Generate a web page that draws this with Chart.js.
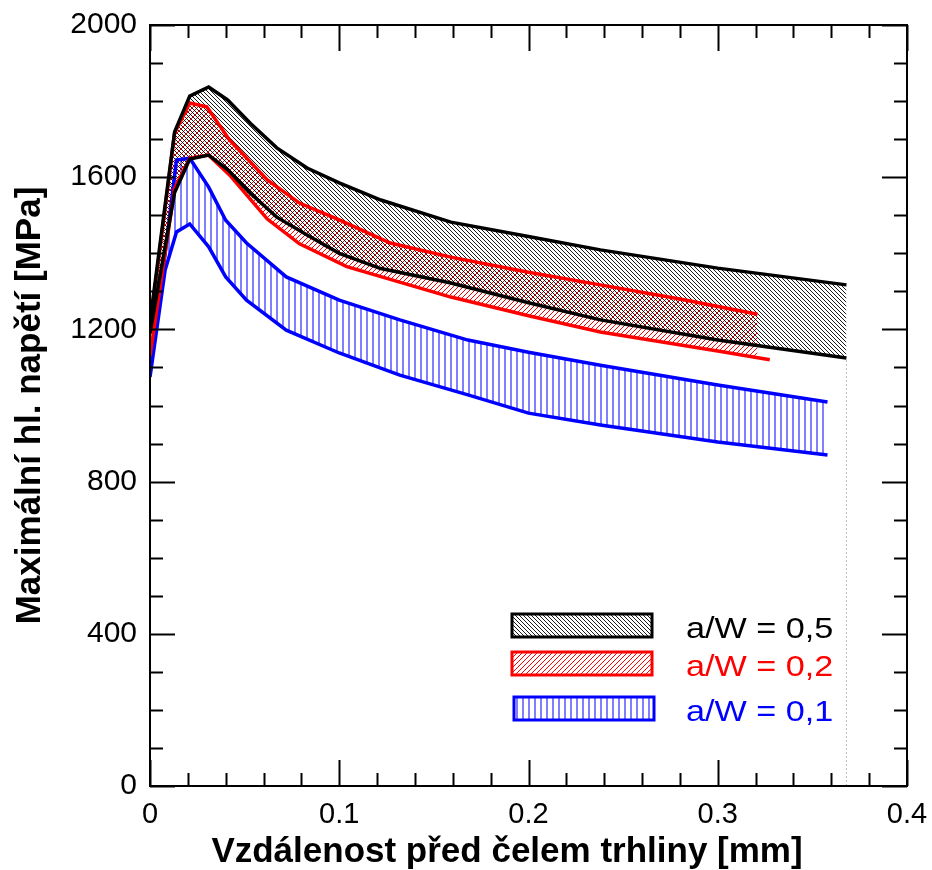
<!DOCTYPE html>
<html>
<head>
<meta charset="utf-8">
<title>Maximální hl. napětí</title>
<script src="https://cdn.jsdelivr.net/npm/chart.js@4.4.1/dist/chart.umd.min.js"></script>
<style>
    html, body { margin: 0; padding: 0; background: #fff; }
    #wrap { width: 932px; height: 870px; }
</style>
</head>
<body>
<div id="wrap"><canvas id="stressChart" width="932" height="870"></canvas></div>
<script>
// a/W = 0,5 band
const xBlack = [0, 0.013, 0.021, 0.031, 0.041, 0.053, 0.067, 0.083, 0.1, 0.122, 0.159, 0.2, 0.238, 0.3, 0.368];
const blackMax = [1220, 1719, 1813, 1837, 1803, 1742, 1677, 1624, 1585, 1540, 1482, 1444, 1409, 1361, 1317];
const blackMin = [1190, 1560, 1648, 1658, 1620, 1558, 1495, 1448, 1400, 1360, 1322, 1270, 1225, 1172, 1125];

// a/W = 0,2 band
const xRedMax = [0, 0.013, 0.021, 0.03, 0.042, 0.062, 0.079, 0.1, 0.127, 0.159, 0.2, 0.238, 0.28, 0.321];
const redMax = [1206, 1716, 1795, 1785, 1698, 1593, 1532, 1488, 1427, 1390, 1350, 1317, 1280, 1240];
const xRedMin = [0, 0.013, 0.021, 0.031, 0.042, 0.062, 0.079, 0.104, 0.159, 0.2, 0.238, 0.3, 0.3275];
const redMin = [1130, 1571, 1650, 1658, 1606, 1490, 1425, 1365, 1285, 1236, 1193, 1143, 1120];

// a/W = 0,1 band
const xBlue = [0, 0.008, 0.014, 0.021, 0.031, 0.04, 0.051, 0.072, 0.1, 0.132, 0.168, 0.2, 0.238, 0.3, 0.358];
const blueMax = [1085, 1400, 1645, 1650, 1574, 1487, 1427, 1338, 1277, 1225, 1172, 1140, 1106, 1054, 1009];
const blueMin = [1075, 1356, 1456, 1477, 1417, 1338, 1277, 1198, 1138, 1080, 1028, 980, 949, 904, 870];

const legendLabels = ['a/W = 0,5', 'a/W = 0,2', 'a/W = 0,1'];
const xTicks = [0, 0.1, 0.2, 0.3, 0.4];
const yTicks = [0, 400, 800, 1200, 1600, 2000];

const FONT = "'Liberation Sans', Arial, sans-serif";

function toPoints(xs, ys) {
    return xs.map((x, i) => ({ x: x, y: ys[i] }));
}

// hatch patterns
function diagPattern(color, size, width, forward) {
    const c = document.createElement('canvas');
    c.width = size; c.height = size;
    const g = c.getContext('2d');
    g.strokeStyle = color;
    g.lineWidth = width;
    g.beginPath();
    for (let k = -1; k <= 1; k++) {
        if (forward) {
            g.moveTo(k * size, size); g.lineTo(k * size + size, 0);
        } else {
            g.moveTo(k * size, 0); g.lineTo(k * size + size, size);
        }
    }
    g.stroke();
    return g.createPattern(c, 'repeat');
}

function vertPattern(color, size, width) {
    const c = document.createElement('canvas');
    c.width = size; c.height = 4;
    const g = c.getContext('2d');
    g.fillStyle = color;
    g.fillRect(0, 0, width, 4);
    return g.createPattern(c, 'repeat');
}

const ctx = document.getElementById('stressChart').getContext('2d');
const blackHatch = diagPattern('#000', 4, 0.9, false);
const redHatch = diagPattern('#ff0000', 5, 1, true);
const blueHatch = vertPattern('#7f7fff', 6, 2);

const bandColors = ['#000000', '#ff0000', '#0000ff'];
const bandPatterns = [blackHatch, redHatch, blueHatch];

// inward ticks, frame, titles and the legend
const framePlugin = {
    id: 'frame',
    afterDraw(chart) {
        const { ctx, chartArea: a, scales } = chart;
        const xs = scales.x, ys = scales.y;
        ctx.save();
        ctx.strokeStyle = '#000';
        ctx.lineWidth = 2;
        ctx.beginPath();
        for (let i = 0; i <= 20; i++) {
            const v = i * 0.02;
            const px = Math.round(xs.getPixelForValue(v)) + 0.5;
            const len = i % 5 === 0 ? 26 : 13;
            ctx.moveTo(px, a.bottom); ctx.lineTo(px, a.bottom - len);
            ctx.moveTo(px, a.top); ctx.lineTo(px, a.top + len);
        }
        for (let i = 0; i <= 20; i++) {
            const v = i * 100;
            const py = Math.round(ys.getPixelForValue(v)) + 0.5;
            const len = i % 4 === 0 ? 25 : 13;
            ctx.moveTo(a.left, py); ctx.lineTo(a.left + len, py);
            ctx.moveTo(a.right, py); ctx.lineTo(a.right - len, py);
        }
        ctx.stroke();
        ctx.strokeRect(a.left, a.top, a.right - a.left, a.bottom - a.top);

        // axis titles
        ctx.fillStyle = '#000';
        ctx.font = 'bold 35px ' + FONT;
        ctx.textAlign = 'center';
        ctx.textBaseline = 'alphabetic';
        ctx.fillText('Vzdálenost před čelem trhliny [mm]', 507, 862);
        ctx.save();
        ctx.translate(40, (a.top + a.bottom) / 2);
        ctx.rotate(-Math.PI / 2);
        ctx.font = 'bold 35px ' + FONT;
        ctx.fillText('Maximální hl. napětí [MPa]', 0, 0);
        ctx.restore();

        // legend
        const boxTop = [614, 652, 697];
        ctx.font = '30px ' + FONT;
        ctx.textAlign = 'left';
        for (let i = 0; i < 3; i++) {
            const bx = i === 2 ? 514 : 512;
            ctx.fillStyle = bandPatterns[i];
            ctx.fillRect(bx, boxTop[i], 140, 23);
            ctx.strokeStyle = bandColors[i];
            ctx.lineWidth = 3;
            ctx.strokeRect(bx, boxTop[i], 140, 23);
            ctx.fillStyle = bandColors[i];
            ctx.save();
            ctx.translate(686, boxTop[i] + 24);
            ctx.scale(1.14, 1);
            ctx.fillText(legendLabels[i], 0, 0);
            ctx.restore();
        }
        ctx.restore();
    }
};

const lineStyle = (color) => ({
    borderColor: color,
    borderWidth: 3.5,
    pointRadius: 0,
    tension: 0,
    fill: false
});

new Chart(ctx, {
    type: 'line',
    data: {
        datasets: [
            Object.assign(lineStyle('#000'), { label: legendLabels[0], data: toPoints(xBlack, blackMax), fill: '+1', backgroundColor: blackHatch, order: 1 }),
            Object.assign(lineStyle('#000'), { label: legendLabels[0] + ' min', data: toPoints(xBlack, blackMin), order: 2 }),
            Object.assign(lineStyle('#ff0000'), { label: legendLabels[1], data: toPoints(xRedMax, redMax), fill: '+1', backgroundColor: redHatch, order: 3 }),
            Object.assign(lineStyle('#ff0000'), { label: legendLabels[1] + ' min', data: toPoints(xRedMin, redMin), order: 4 }),
            Object.assign(lineStyle('#0000ff'), { label: legendLabels[2], data: toPoints(xBlue, blueMax), fill: '+1', backgroundColor: blueHatch, order: 5 }),
            Object.assign(lineStyle('#0000ff'), { label: legendLabels[2] + ' min', data: toPoints(xBlue, blueMin), order: 6 }),
            {
                label: 'drop',
                data: [{ x: xBlack[xBlack.length - 1], y: 0 }, { x: xBlack[xBlack.length - 1], y: blackMin[blackMin.length - 1] }],
                borderColor: '#bbbbbb',
                borderWidth: 1,
                borderDash: [2, 2],
                pointRadius: 0,
                fill: false,
                order: 7
            }
        ]
    },
    options: {
        responsive: false,
        animation: false,
        layout: { padding: { top: 25, right: 25, left: 0, bottom: 0 } },
        plugins: {
            legend: { display: false },
            tooltip: { enabled: false },
            filler: { drawTime: 'beforeDatasetsDraw' }
        },
        scales: {
            x: {
                type: 'linear',
                min: 0,
                max: 0.4,
                afterBuildTicks: (s) => { s.ticks = xTicks.map(v => ({ value: v })); },
                afterFit: (s) => { s.height = 84; s.paddingLeft = 0; s.paddingRight = 0; },
                grid: { display: false, drawTicks: false },
                border: { display: false },
                ticks: {
                    color: '#000',
                    font: { family: FONT, size: 29 },
                    padding: 12,
                    maxRotation: 0,
                    callback: (v) => String(Math.round(v * 10) / 10)
                }
            },
            y: {
                type: 'linear',
                min: 0,
                max: 2000,
                afterBuildTicks: (s) => { s.ticks = yTicks.map(v => ({ value: v })); },
                afterFit: (s) => { s.width = 150; s.paddingTop = 0; s.paddingBottom = 0; },
                grid: { display: false, drawTicks: false },
                border: { display: false },
                ticks: {
                    color: '#000',
                    font: { family: FONT, size: 30 },
                    padding: 13,
                    callback: (v) => String(v)
                }
            }
        }
    },
    plugins: [framePlugin]
});
</script>
</body>
</html>
